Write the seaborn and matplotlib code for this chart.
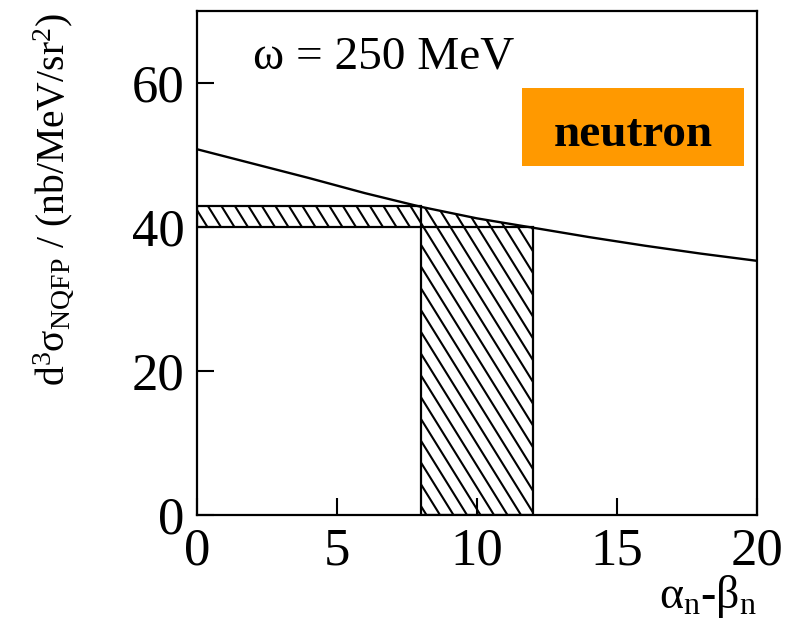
import numpy as np
import matplotlib
matplotlib.use("Agg")
import matplotlib.pyplot as plt
import matplotlib.transforms as mtransforms
from matplotlib.patches import Rectangle, Polygon
from matplotlib.collections import LineCollection
import pandas as pd
import seaborn as sns

# NQFP cross section versus alpha_n - beta_n at omega = 250 MeV
alpha_beta = [0, 2, 4, 6, 8, 10, 12, 14, 16, 18, 20]
sigma = [50.8, 48.8, 46.8, 44.7, 42.8, 41.2, 39.9, 38.6, 37.4, 36.3, 35.3]

# allowed alpha_n - beta_n interval and the resulting cross-section band
ab_range = [8, 12]
sigma_range = [40.0, 42.9]

x_ticks = [0, 5, 10, 15, 20]
y_ticks = [0, 20, 40, 60]

sns.set_theme(style="ticks")
plt.rcParams["font.family"] = ["Liberation Serif", "DejaVu Serif"]
plt.rcParams["mathtext.fontset"] = "custom"
plt.rcParams["mathtext.rm"] = "Liberation Serif"
plt.rcParams["mathtext.it"] = "Liberation Serif:italic"
plt.rcParams["text.color"] = "black"

fig = plt.figure(figsize=(7.88, 6.26), dpi=100)
ax = fig.add_axes([197 / 788, 1 - 515 / 626, 560 / 788, 504 / 626])

df = pd.DataFrame({"ab": alpha_beta, "sigma": sigma})
sns.lineplot(data=df, x="ab", y="sigma", color="black", linewidth=1.7, ax=ax)

ax.set_xlim(0, 20)
ax.set_ylim(0, 70)
ax.set_xticks(x_ticks)
ax.set_yticks(y_ticks)
ax.set_xlabel("")
ax.set_ylabel("")
ax.tick_params(direction="in", length=12, width=1.5, labelsize=38,
               colors="black", pad=9)
for s in ax.spines.values():
    s.set_linewidth(1.6)
    s.set_color("black")

# regions
lo, hi = ab_range
s_lo, s_hi = sigma_range
xs = np.linspace(lo, hi, 50)
curve_y = np.interp(xs, alpha_beta, sigma)

band = Rectangle((0, s_lo), lo, s_hi - s_lo, fill=False, ec="black", lw=1.6)
column = Rectangle((lo, 0), hi - lo, s_lo, fill=False, ec="black", lw=1.6)
cap = Polygon(np.column_stack([np.r_[xs, hi, lo], np.r_[curve_y, 0, 0]]),
              closed=True, fill=False, ec="none")
for p in (band, column, cap):
    ax.add_patch(p)


def hatch(patch, spacing=13.5, lean=0.62, lw=1.5):
    fig.canvas.draw()
    bb = ax.get_window_extent()
    h = bb.height
    segs = []
    for x0 in np.arange(bb.x0 - lean * h - spacing, bb.x1 + spacing, spacing):
        segs.append([(x0, bb.y1), (x0 + lean * h, bb.y0)])
    lc = LineCollection(segs, colors="black", linewidths=lw,
                        transform=mtransforms.IdentityTransform())
    ax.add_collection(lc, autolim=False)
    lc.set_clip_path(patch)


hatch(band)
hatch(cap)

ax.text(2.0, 62.0, "ω = 250 MeV", fontsize=34, va="baseline", ha="left")

ax.add_patch(Rectangle((11.61, 48.5), 7.93, 10.8, fc="#FF9900", ec="none", zorder=3))
ax.text(15.57, 51.3, "neutron", fontsize=34, fontweight="bold",
        ha="center", va="baseline", zorder=4)

fig.text(55 / 788, 1 - 200 / 626, "d$^3$σ$_{\\rm NQFP}$ / (nb/MeV/sr$^2$)",
         rotation=90, ha="center", va="center", fontsize=28.5)
fig.text(757 / 788, 1 - 597 / 626, "α$_{\\rm n}$-β$_{\\rm n}$",
         ha="right", va="center", fontsize=33)

fig.savefig("out.png", dpi=100)
